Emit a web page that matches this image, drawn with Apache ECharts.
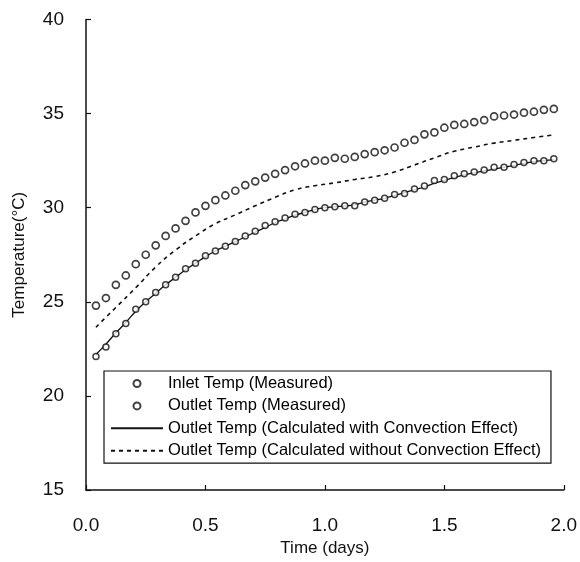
<!DOCTYPE html>
<html>
<head>
<meta charset="utf-8">
<script src="https://cdn.jsdelivr.net/npm/echarts@6/dist/echarts.min.js"></script>
<style>
html,body{margin:0;padding:0;background:#fff;}
#chart{width:580px;height:562px;}
</style>
</head>
<body>
<div id="chart"></div>
<script>
// Measurement times (hours)
var hours = [1,2,3,4,5,6,7,8,9,10,11,12,13,14,15,16,17,18,19,20,21,22,23,24,25,26,27,28,29,30,31,32,33,34,35,36,37,38,39,40,41,42,43,44,45,46,47];
// Upper measured series
var inletMeasured = [24.8,25.2,25.9,26.4,27.0,27.5,28.0,28.5,28.9,29.3,29.75,30.1,30.4,30.65,30.9,31.2,31.4,31.6,31.8,32.0,32.2,32.35,32.5,32.5,32.65,32.6,32.7,32.85,32.95,33.05,33.2,33.45,33.6,33.9,34.0,34.25,34.4,34.45,34.55,34.65,34.85,34.9,34.95,35.05,35.1,35.2,35.25];
// Lower measured series
var outletMeasured = [22.1,22.6,23.3,23.85,24.6,25.0,25.5,25.9,26.3,26.75,27.05,27.45,27.7,27.95,28.2,28.5,28.75,29.05,29.25,29.45,29.65,29.75,29.9,30.0,30.05,30.1,30.1,30.3,30.4,30.5,30.7,30.75,31.0,31.15,31.45,31.5,31.7,31.8,31.9,32.0,32.15,32.15,32.3,32.4,32.5,32.5,32.6];
// Calculated with convection (solid)
var calcWith = [22.2,22.75,23.35,23.9,24.5,25.0,25.45,25.9,26.3,26.7,27.05,27.4,27.7,27.95,28.2,28.45,28.7,28.95,29.2,29.4,29.6,29.75,29.9,30.0,30.05,30.1,30.15,30.3,30.4,30.5,30.65,30.8,30.95,31.1,31.3,31.45,31.6,31.75,31.85,31.95,32.05,32.15,32.25,32.35,32.45,32.5,32.55];
// Calculated without convection (dashed)
var calcHours = [1,3,5,7,9,11,13,15,17,19,21,23,25,27,29,31,33,35,37,39,41,43,45,47];
var calcWithout = [23.65,24.7,25.75,26.85,27.75,28.5,29.15,29.62,30.1,30.55,30.95,31.17,31.32,31.5,31.65,31.9,32.27,32.65,33.0,33.22,33.43,33.58,33.73,33.87];

var xTicks = ['0.0','0.5','1.0','1.5','2.0'];
var seriesNames = [
  'Inlet Temp (Measured)',
  'Outlet Temp (Measured)',
  'Outlet Temp (Calculated with Convection Effect)',
  'Outlet Temp (Calculated without Convection Effect)'
];

function pairs(h, v){ return h.map(function(t,i){ return [t/24, v[i]]; }); }

var FONT = '"Liberation Sans", Arial, sans-serif';
var chart = echarts.init(document.getElementById('chart'), null, {renderer:'canvas'});
chart.setOption({
  animation:false,
  backgroundColor:'#fff',
  grid:{left:86, right:13, top:19.5, bottom:70.3, containLabel:false},
  xAxis:{
    type:'value', min:0, max:2, interval:0.5,
    name:'Time (days)', nameLocation:'middle', nameGap:50,
    nameTextStyle:{fontFamily:FONT, fontSize:17, color:'#111'},
    axisLine:{show:true, lineStyle:{color:'#111', width:1.5}},
    axisTick:{show:true, inside:true, length:5, lineStyle:{color:'#111', width:1.2}},
    axisLabel:{margin:26, fontFamily:FONT, fontSize:19, color:'#111',
      formatter:function(v){ return xTicks[Math.round(v/0.5)]; }},
    splitLine:{show:false}
  },
  yAxis:{
    type:'value', min:15, max:40, interval:5,
    name:'Temperature(°C)', nameLocation:'middle', nameGap:58,
    nameTextStyle:{fontFamily:FONT, fontSize:17, color:'#111'},
    axisLine:{show:true, lineStyle:{color:'#111', width:1.5}},
    axisTick:{show:true, inside:true, length:5, lineStyle:{color:'#111', width:1.2}},
    axisLabel:{margin:22, fontFamily:FONT, fontSize:19, color:'#111'},
    splitLine:{show:false}
  },
  legend:{
    show:true, orient:'vertical', left:104, top:371,
    padding:[4,10,4,6], itemGap:5.4, itemWidth:52, itemHeight:7,
    backgroundColor:'#fff', borderColor:'#111', borderWidth:1.2,
    textStyle:{fontFamily:FONT, fontSize:16.5, color:'#000'},
    data:[
      {name:seriesNames[0]},
      {name:seriesNames[1]},
      {name:seriesNames[2], itemStyle:{opacity:0}},
      {name:seriesNames[3], itemStyle:{opacity:0}}
    ]
  },
  series:[
    {
      name:seriesNames[2], type:'line', data:pairs(hours, calcWith),
      smooth:true, showSymbol:false, symbol:'none',
      lineStyle:{color:'#111', width:1.3, type:'solid'}, itemStyle:{color:'#111'}, z:2
    },
    {
      name:seriesNames[3], type:'line', data:pairs(calcHours, calcWithout),
      smooth:true, showSymbol:false, symbol:'none',
      lineStyle:{color:'#111', width:1.6, type:[4,4]}, itemStyle:{color:'#111'}, z:2
    },
    {
      name:seriesNames[0], type:'scatter', data:pairs(hours, inletMeasured),
      symbol:'circle', symbolSize:7,
      itemStyle:{color:'#fff', borderColor:'#111', borderWidth:1.7}, z:3
    },
    {
      name:seriesNames[1], type:'scatter', data:pairs(hours, outletMeasured),
      symbol:'circle', symbolSize:6,
      itemStyle:{color:'#fff', borderColor:'#111', borderWidth:1.5}, z:3
    }
  ]
});
</script>
</body>
</html>
